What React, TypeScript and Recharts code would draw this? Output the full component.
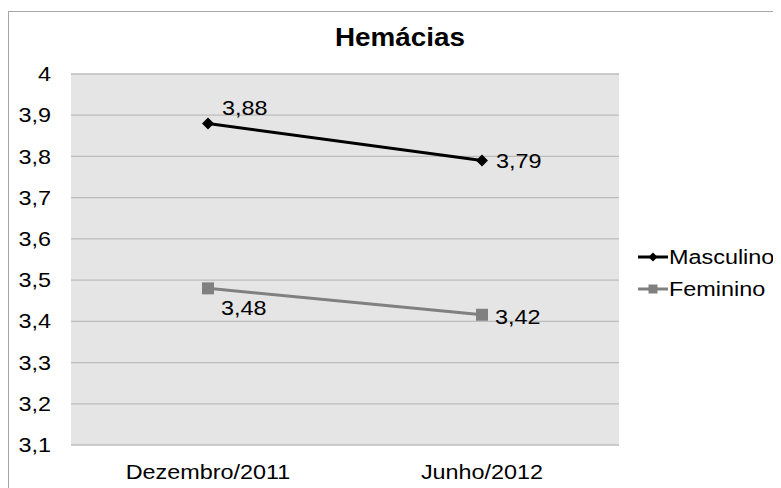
import { CartesianGrid, LabelList, Line, LineChart, XAxis, YAxis } from "recharts";

// Hemácias: Dezembro/2011 vs Junho/2012, by sex
const PERIODS = ["Dezembro/2011", "Junho/2012"];
const MASCULINO = [3.88, 3.79];
const FEMININO = [3.48, 3.416];
const Y_TICKS = [3.1, 3.2, 3.3, 3.4, 3.5, 3.6, 3.7, 3.8, 3.9, 4];

const data = PERIODS.map((period, i) => ({
  period,
  masculino: MASCULINO[i],
  feminino: FEMININO[i],
}));

const FONT = '"Liberation Sans", Arial, sans-serif';
// the source text is drawn a bit wider than Arial's natural proportions
const STRETCH = 1.17;
const MASC_COLOR = "#000000";
const FEM_COLOR = "#808080";

// where each data label sits relative to its point (Excel nudged them apart)
const MASC_LABEL_OFFSETS = [
  { dx: 14, dy: -8 },
  { dx: 14, dy: 7 },
];
const FEM_LABEL_OFFSETS = [
  { dx: 13, dy: 27 },
  { dx: 13, dy: 9 },
];

const fmt = (v: number, digits?: number) =>
  (digits == null ? String(v) : v.toFixed(digits)).replace(".", ",");

function WideText({
  x,
  y,
  anchor = "start",
  dy,
  size = 20,
  children,
}: {
  x: number;
  y: number;
  anchor?: "start" | "middle" | "end";
  dy?: string | number;
  size?: number;
  children: React.ReactNode;
}) {
  return (
    <text
      transform={`translate(${x} ${y}) scale(${STRETCH} 1)`}
      textAnchor={anchor}
      dy={dy}
      fontFamily={FONT}
      fontSize={size}
      fill="#000"
    >
      {children}
    </text>
  );
}

function YTick({ x, y, payload }: any) {
  return (
    <WideText x={x} y={y} anchor="end" dy="0.355em">
      {fmt(payload.value)}
    </WideText>
  );
}

function XTick({ x, y, payload }: any) {
  return (
    <WideText x={x} y={y} anchor="middle" dy="0.71em">
      {payload.value}
    </WideText>
  );
}

function Diamond({ cx, cy, r = 6, fill }: { cx?: number; cy?: number; r?: number; fill: string }) {
  if (cx == null || cy == null) return <g />;
  return (
    <polygon
      points={`${cx},${cy - r} ${cx + r},${cy} ${cx},${cy + r} ${cx - r},${cy}`}
      fill={fill}
    />
  );
}

function Square({ cx, cy, s = 12, fill }: { cx?: number; cy?: number; s?: number; fill: string }) {
  if (cx == null || cy == null) return <g />;
  return <rect x={cx - s / 2} y={cy - s / 2} width={s} height={s} fill={fill} />;
}

function makeLabel(offsets: { dx: number; dy: number }[]) {
  return function DataLabel(props: any) {
    const { x, y, value, index } = props;
    if (x == null || y == null) return null;
    const o = offsets[index] ?? { dx: 12, dy: 7 };
    return (
      <WideText x={x + o.dx} y={y + o.dy}>
        {fmt(Number(value), 2)}
      </WideText>
    );
  };
}

const LEGEND_ITEMS = [
  { name: "Masculino", color: MASC_COLOR, marker: "diamond" },
  { name: "Feminino", color: FEM_COLOR, marker: "square" },
];

function SideLegend() {
  return (
    <div
      style={{
        position: "absolute",
        left: 629,
        top: 229,
        fontFamily: FONT,
        fontSize: 20,
        color: "#000",
      }}
    >
      {LEGEND_ITEMS.map((item) => (
        <div key={item.name} style={{ display: "flex", alignItems: "center", height: 32 }}>
          <svg width={30} height={32} style={{ display: "block" }}>
            <line x1={0} y1={16} x2={30} y2={16} stroke={item.color} strokeWidth={3} />
            {item.marker === "diamond" ? (
              <Diamond cx={15} cy={16} r={4.5} fill={item.color} />
            ) : (
              <Square cx={15} cy={16} s={9} fill={item.color} />
            )}
          </svg>
          <span
            style={{
              display: "inline-block",
              marginLeft: 1,
              transform: `scaleX(${STRETCH})`,
              transformOrigin: "left center",
              whiteSpace: "nowrap",
            }}
          >
            {item.name}
          </span>
        </div>
      ))}
    </div>
  );
}

export default function App() {
  return (
    <div style={{ paddingTop: 3 }}>
      <style>{"html,body{overflow:hidden}"}</style>
      <div
        style={{
          position: "relative",
          width: 772,
          height: 476,
          borderLeft: "1px solid #a6a6a6",
          borderTop: "1px solid #a6a6a6",
          background: "#fff",
        }}
      >
        <div
          style={{
            position: "absolute",
            left: 0,
            top: 12,
            width: 782,
            textAlign: "center",
            fontFamily: FONT,
            fontWeight: "bold",
            fontSize: 26,
            lineHeight: "26px",
            color: "#000",
            transform: "scaleX(1.07)",
          }}
        >
          Hemácias
        </div>
        <LineChart
          width={772}
          height={476}
          data={data}
          margin={{ top: 62, right: 162, bottom: 13, left: 0 }}
        >
          <CartesianGrid vertical={false} fill="#e5e5e5" stroke="#bcbcbc" strokeWidth={1.3} />
          <XAxis
            dataKey="period"
            axisLine={false}
            tickLine={false}
            tickSize={0}
            tickMargin={20}
            padding={{ left: 137, right: 137 }}
            tick={<XTick />}
            height={30}
          />
          <YAxis
            domain={[3.1, 4]}
            ticks={Y_TICKS}
            axisLine={false}
            tickLine={false}
            tickSize={0}
            tickMargin={20}
            width={62}
            tick={<YTick />}
            interval={0}
          />
          <Line
            type="linear"
            dataKey="masculino"
            name="Masculino"
            stroke={MASC_COLOR}
            strokeWidth={3}
            dot={(p: any) => <Diamond key={`m${p.index}`} cx={p.cx} cy={p.cy} fill={MASC_COLOR} />}
            activeDot={false}
            isAnimationActive={false}
          >
            <LabelList dataKey="masculino" content={makeLabel(MASC_LABEL_OFFSETS)} />
          </Line>
          <Line
            type="linear"
            dataKey="feminino"
            name="Feminino"
            stroke={FEM_COLOR}
            strokeWidth={3}
            dot={(p: any) => <Square key={`f${p.index}`} cx={p.cx} cy={p.cy} fill={FEM_COLOR} />}
            activeDot={false}
            isAnimationActive={false}
          >
            <LabelList dataKey="feminino" content={makeLabel(FEM_LABEL_OFFSETS)} />
          </Line>
        </LineChart>
        <SideLegend />
      </div>
    </div>
  );
}
